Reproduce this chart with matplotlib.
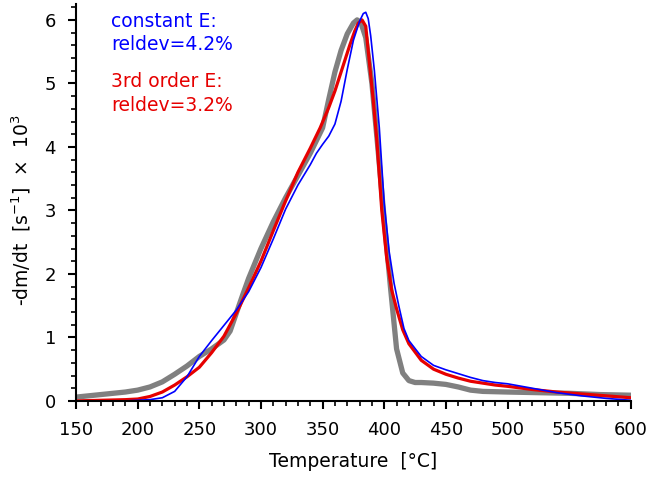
import matplotlib
matplotlib.use('Agg')
import matplotlib.pyplot as plt
from matplotlib.ticker import MultipleLocator

plt.rcParams['font.family'] = ['DejaVu Sans']

# measured curve (grey)
t_meas = [150, 160, 170, 180, 190, 200, 210, 220, 230, 240, 250, 260, 270, 275,
          280, 285, 290, 300, 310, 320, 330, 340, 350, 355, 360, 365, 370, 375,
          378, 381, 385, 390, 395, 400, 405, 410, 415, 420, 425, 430, 440, 450,
          460, 470, 480, 500, 525, 550, 575, 600]
v_meas = [0.06, 0.08, 0.10, 0.12, 0.14, 0.17, 0.22, 0.30, 0.42, 0.55, 0.70, 0.82,
          0.96, 1.10, 1.38, 1.66, 1.93, 2.40, 2.82, 3.20, 3.55, 3.90, 4.30, 4.75,
          5.18, 5.52, 5.78, 5.95, 6.00, 5.96, 5.72, 5.00, 3.95, 2.85, 1.80, 0.82,
          0.44, 0.32, 0.29, 0.29, 0.28, 0.26, 0.22, 0.17, 0.15, 0.14, 0.13, 0.12,
          0.10, 0.09]

# 3rd order E model (red)
t_third = [150, 170, 190, 200, 210, 220, 230, 240, 250, 260, 270, 280, 290, 300,
           310, 320, 330, 340, 348, 355, 360, 364, 368, 372, 376, 379, 382, 385,
           388, 391, 394, 398, 402, 406, 410, 415, 420, 430, 440, 450, 460, 470,
           480, 490, 500, 520, 540, 560, 580, 600]
v_third = [0.00, 0.01, 0.02, 0.03, 0.07, 0.14, 0.25, 0.38, 0.53, 0.76, 1.02, 1.38,
           1.78, 2.20, 2.68, 3.15, 3.60, 3.98, 4.30, 4.62, 4.88, 5.12, 5.36, 5.60,
           5.82, 5.95, 6.00, 5.90, 5.32, 4.75, 4.10, 3.00, 2.25, 1.75, 1.45, 1.12,
           0.90, 0.64, 0.50, 0.42, 0.36, 0.31, 0.28, 0.25, 0.23, 0.18, 0.14, 0.11,
           0.08, 0.05]

# constant E model (blue)
t_const = [150, 190, 200, 210, 220, 230, 240, 250, 260, 270, 280, 290, 300, 310,
           320, 330, 340, 345, 350, 355, 360, 365, 370, 375, 380, 383, 385, 387,
           389, 392, 396, 400, 404, 408, 412, 416, 420, 430, 440, 450, 460, 470,
           480, 490, 500, 520, 540, 560, 580, 600]
v_const = [0.00, 0.00, 0.01, 0.02, 0.05, 0.15, 0.38, 0.70, 0.95, 1.19, 1.43, 1.72,
           2.10, 2.55, 3.02, 3.40, 3.72, 3.90, 4.04, 4.17, 4.36, 4.72, 5.22, 5.68,
           5.98, 6.10, 6.12, 6.02, 5.75, 5.20, 4.30, 3.10, 2.35, 1.85, 1.48, 1.14,
           0.95, 0.70, 0.56, 0.49, 0.43, 0.37, 0.32, 0.29, 0.27, 0.20, 0.13, 0.08,
           0.04, 0.01]

fig = plt.figure(figsize=(6.47, 4.79), dpi=100)
ax = fig.add_axes([0.1175, 0.163, 0.8575, 0.8286])

ax.plot(t_meas, v_meas, color='#808080', lw=3.8)
ax.plot(t_third, v_third, color='#e60000', lw=2.3)
ax.plot(t_const, v_const, color='#0000ff', lw=1.2)

ax.set_xlim(150, 600)
ax.set_ylim(0, 6.25)
ax.xaxis.set_major_locator(MultipleLocator(50))
ax.xaxis.set_minor_locator(MultipleLocator(10))
ax.yaxis.set_major_locator(MultipleLocator(1))
ax.yaxis.set_minor_locator(MultipleLocator(0.2))
ax.tick_params(which='major', length=6, width=1.5, labelsize=13, direction='out', pad=8.5)
ax.tick_params(which='minor', length=3.8, width=1.2, direction='out')
for s in ['top', 'right']:
    ax.spines[s].set_visible(False)
for s in ['left', 'bottom']:
    ax.spines[s].set_linewidth(1.5)

ax.set_xlabel('Temperature  [°C]', fontsize=13.5, labelpad=9)
ax.set_ylabel(r'-dm/dt  [s$^{-1}$]  $\times$  10$^{3}$', fontsize=13.5)
ax.yaxis.set_label_coords(-0.078, 0.48)

# annotation lines (x, baseline y in pixels)
txt_x = 111 / 647
ann = [('constant E:', 27, '#0000ff'), ('reldev=4.2%', 50, '#0000ff'),
       ('3rd order E:', 87, '#e60000'), ('reldev=3.2%', 111, '#e60000')]
for s, ypx, c in ann:
    fig.text(txt_x, 1 - ypx / 479, s, color=c, fontsize=13.5, va='baseline')

fig.savefig('out.png', dpi=100)
